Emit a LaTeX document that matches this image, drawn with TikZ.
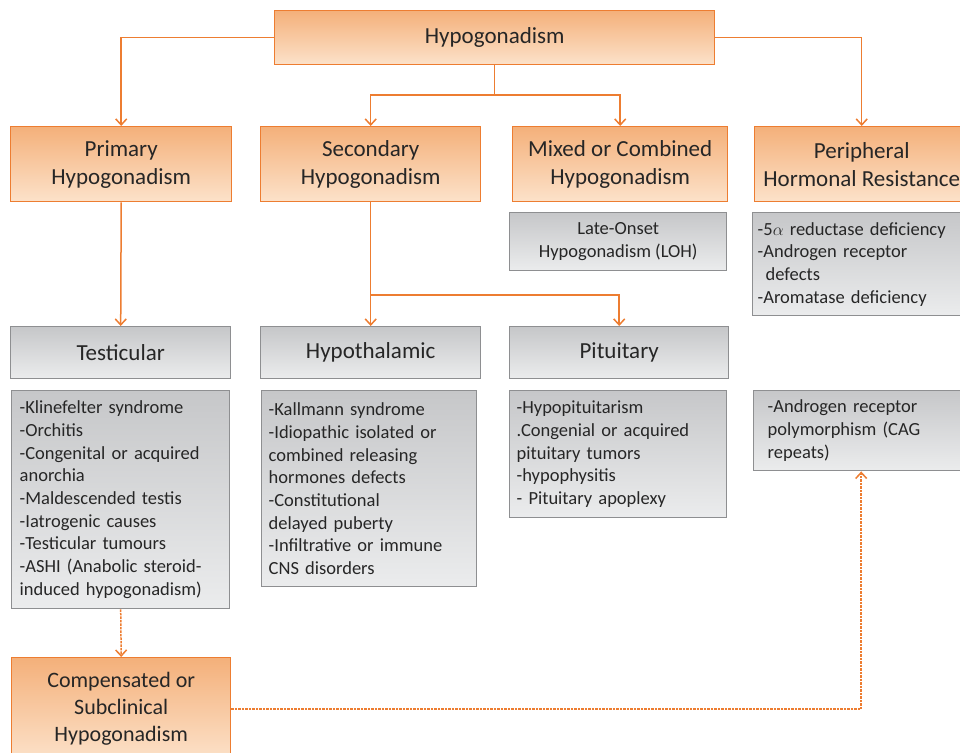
\documentclass[tikz,border=0pt]{standalone}
\usepackage{fontspec}
\setmainfont{Carlito}
\usetikzlibrary{arrows.meta}
\definecolor{orbd}{HTML}{ED7D31}
\definecolor{ortop}{HTML}{F4B07A}
\definecolor{orbot}{HTML}{FCE2CA}
\definecolor{grbd}{HTML}{8E8F91}
\definecolor{grtop}{HTML}{C6C7C9}
\definecolor{grbot}{HTML}{EBECED}
\definecolor{txt}{HTML}{262626}
\newcommand{\hfnt}{\fontsize{23}{28}\selectfont}
\newcommand{\lfnt}{\fontsize{18.5}{22.7}\selectfont}
\tikzset{
  obox/.style={draw=orbd, line width=1.4pt, top color=ortop, bottom color=orbot,
    anchor=north west, align=center, font=\hfnt, text=txt, inner xsep=2pt, inner ysep=0pt},
  gbox/.style={draw=grbd, line width=1.4pt, top color=grtop, bottom color=grbot,
    anchor=north west, font=\hfnt, text=txt, inner xsep=2pt, inner ysep=0pt},
  lbox/.style={draw=grbd, line width=1.4pt, top color=grtop, bottom color=grbot,
    anchor=north west, align=left, font=\lfnt, text=txt, inner ysep=0pt},
  conn/.style={draw=orbd, line width=1.5pt, -{Straight Barb[length=6pt,width=11pt]}},
  plainconn/.style={draw=orbd, line width=1.5pt},
  dconn/.style={draw=orbd, line width=1.5pt, dash pattern=on 2.5pt off 1pt, -{Straight Barb[length=6pt,width=11pt]}}
}
\begin{document}
\begin{tikzpicture}[x=1pt,y=-1pt]
\useasboundingbox (0,0) rectangle (960,752);
% orange headers
\node[obox, minimum width=440pt, minimum height=54pt] (hypo) at (274,10) {Hypogonadism};
\node[obox, minimum width=221pt, minimum height=75pt] (prim) at (10,126) {Primary\\Hypogonadism};
\node[obox, minimum width=220pt, minimum height=75pt] (sec) at (260,126) {Secondary\\Hypogonadism};
\node[obox, minimum width=215pt, minimum height=75pt] (mix) at (512,126) {Mixed or Combined\\Hypogonadism};
\node[obox, minimum width=214pt, minimum height=75pt] (per) at (754,126) {Peripheral\\Hormonal Resistance};
% gray under headers
\node[lbox, align=center, inner xsep=2pt, minimum width=217pt, minimum height=58pt] (loh) at (509,212) {Late-Onset\\Hypogonadism (LOH)};
\node[lbox, inner xsep=5pt, text width=204pt, minimum height=103pt] (peri) at (752,212)
  {-5$\alpha$ reductase deficiency\\-Androgen receptor\\\hspace*{8pt}defects\\-Aromatase deficiency};
% second level
\node[gbox, minimum width=220pt, minimum height=52pt] (test) at (10,326) {Testicular};
\node[gbox, minimum width=220pt, minimum height=52pt] (hypoth) at (260,326) {Hypothalamic};
\node[gbox, minimum width=219pt, minimum height=52pt] (pit) at (509,326) {Pituitary};
% lists
\node[lbox, inner xsep=8pt, text width=202pt, minimum height=218pt] (kline) at (11,390)
  {-Klinefelter syndrome\\-Orchitis\\-Congenital or acquired\\anorchia\\-Maldescended testis\\-Iatrogenic causes\\-Testicular tumours\\-ASHI (Anabolic steroid-\\induced hypogonadism)};
\node[lbox, inner xsep=7pt, text width=201pt, minimum height=196pt] (kall) at (261,390)
  {-Kallmann syndrome\\-Idiopathic isolated or\\combined releasing\\hormones defects\\-Constitutional\\delayed puberty\\-Infiltrative or immune\\CNS disorders};
\node[lbox, inner xsep=7pt, text width=203pt, minimum height=127pt] (hpit) at (509,390)
  {-Hypopituitarism\\.Congenial or acquired\\pituitary tumors\\-hypophysitis\\- Pituitary apoplexy};
\node[lbox, inner xsep=14pt, text width=187pt, minimum height=80pt] (andr) at (753,390)
  {-Androgen receptor\\polymorphism (CAG\\repeats)};
% compensated
\node[obox, minimum width=219pt, minimum height=103pt, font=\fontsize{22}{27}\selectfont] (comp) at (11,657)
  {Compensated or\\Subclinical\\Hypogonadism};
% connectors
\draw[conn] (hypo.west) -| (prim.north);
\draw[conn] (hypo.east) -| (per.north);
\coordinate (j1) at (hypo.south |- 0,95);
\draw[plainconn] (hypo.south) -- (j1);
\draw[conn] (j1) -| (sec.north);
\draw[conn] (j1) -| (mix.north);
\draw[conn] (prim.south) -- (test.north);
\draw[conn] (sec.south) -- (hypoth.north);
\coordinate (j2) at (sec.south |- 0,295);
\draw[conn] (j2) -| (pit.north);
\draw[dconn] (kline.south) -- (comp.north);
\draw[dconn] (comp.east) -| (andr.south);
\end{tikzpicture}
\end{document}
